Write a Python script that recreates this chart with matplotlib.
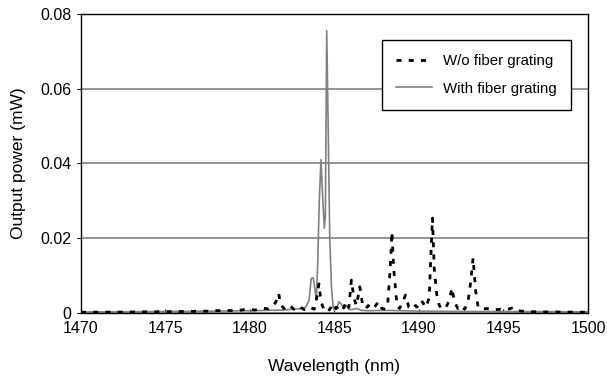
import matplotlib.pyplot as plt

plt.rcParams['font.family'] = ['Liberation Sans', 'DejaVu Sans']

# spectrum with fiber grating (solid grey)
wl_with = [1470.0, 1472.0, 1475.0, 1478.0, 1480.0, 1481.0, 1482.0, 1482.5, 1483.0,
           1483.3, 1483.5, 1483.62, 1483.75, 1483.85, 1483.92, 1484.0, 1484.1, 1484.2,
           1484.3, 1484.4, 1484.46, 1484.54, 1484.62, 1484.72, 1484.82, 1484.92, 1485.0,
           1485.15, 1485.27, 1485.4, 1485.55, 1485.7, 1485.85, 1486.0, 1486.3, 1486.6,
           1487.0, 1488.0, 1490.0, 1493.0, 1496.0, 1500.0]
p_with = [0.0003, 0.0003, 0.0004, 0.0005, 0.0006, 0.0007, 0.0008, 0.0010, 0.0012,
          0.0015, 0.0035, 0.0092, 0.0094, 0.0060, 0.0035, 0.0120, 0.0300, 0.0410,
          0.0310, 0.0227, 0.0260, 0.0755, 0.0520, 0.0200, 0.0070, 0.0015, 0.0008,
          0.0015, 0.0030, 0.0024, 0.0012, 0.0020, 0.0010, 0.0009, 0.0012, 0.0007,
          0.0006, 0.0007, 0.0005, 0.0004, 0.0004, 0.0003]

# spectrum without fiber grating (black dotted)
wl_wo = [1470.0, 1474.0, 1476.0, 1477.5, 1478.5, 1479.2, 1479.8, 1480.3, 1480.7, 1481.1,
         1481.4, 1481.6, 1481.7, 1481.8, 1482.0, 1482.3, 1482.6, 1482.9, 1483.2, 1483.5,
         1483.8, 1483.95, 1484.08, 1484.2, 1484.35, 1484.5, 1484.7, 1484.9, 1485.1, 1485.3,
         1485.5, 1485.7, 1485.85, 1486.0, 1486.15, 1486.3, 1486.5, 1486.65, 1486.85, 1487.0,
         1487.2, 1487.4, 1487.6, 1487.8, 1488.0, 1488.15, 1488.3, 1488.4, 1488.5, 1488.6,
         1488.7, 1488.85, 1489.0, 1489.2, 1489.4, 1489.6, 1489.8, 1490.0, 1490.2, 1490.4,
         1490.6, 1490.7, 1490.8, 1490.9, 1491.05, 1491.2, 1491.4, 1491.6, 1491.8, 1491.95,
         1492.1, 1492.3, 1492.5, 1492.7, 1492.9, 1493.05, 1493.2, 1493.35, 1493.5, 1493.7,
         1494.0, 1494.4, 1494.8, 1495.2, 1495.6, 1495.9, 1496.3, 1497.0, 1500.0]
p_wo = [0.0002, 0.0003, 0.0004, 0.0005, 0.0007, 0.0006, 0.0010, 0.0008, 0.0013, 0.0011,
        0.0020, 0.0035, 0.0052, 0.0025, 0.0012, 0.0022, 0.0010, 0.0018, 0.0009, 0.0016,
        0.0010, 0.0040, 0.0078, 0.0030, 0.0012, 0.0018, 0.0008, 0.0025, 0.0012, 0.0020,
        0.0010, 0.0030, 0.0015, 0.0088, 0.0040, 0.0020, 0.0070, 0.0025, 0.0012, 0.0020,
        0.0010, 0.0018, 0.0030, 0.0012, 0.0010, 0.0025, 0.0120, 0.0217, 0.0120, 0.0070,
        0.0020, 0.0012, 0.0025, 0.0048, 0.0015, 0.0010, 0.0020, 0.0012, 0.0030, 0.0015,
        0.0040, 0.0150, 0.0254, 0.0120, 0.0050, 0.0020, 0.0010, 0.0015, 0.0035, 0.0067,
        0.0030, 0.0012, 0.0020, 0.0010, 0.0030, 0.0080, 0.0147, 0.0060, 0.0015, 0.0010,
        0.0012, 0.0008, 0.0010, 0.0009, 0.0015, 0.0006, 0.0004, 0.0003, 0.0002]

fig = plt.figure(figsize=(6.07, 3.81), dpi=100)
ax = fig.add_axes([0.1334, 0.1785, 0.8353, 0.7848])

ax.plot(wl_wo, p_wo, color='black', lw=2.0, linestyle=(0, (1.8, 2.6)),
        label='W/o fiber grating', zorder=3)
ax.plot(wl_with, p_with, color='#808080', lw=1.2, label='With fiber grating', zorder=2)

ax.set_xlim(1470, 1500)
ax.set_ylim(0, 0.08)
ax.set_xticks([1470, 1475, 1480, 1485, 1490, 1495, 1500])
ax.set_yticks([0, 0.02, 0.04, 0.06, 0.08])
ax.set_yticklabels(['0', '0.02', '0.04', '0.06', '0.08'])
ax.yaxis.grid(True, color='#808080', lw=1.2)
ax.set_axisbelow(True)
ax.tick_params(axis='x', direction='in', length=3, labelsize=11.5, pad=6)
ax.tick_params(axis='y', direction='out', length=3, labelsize=11.5, pad=4)
for s in ax.spines.values():
    s.set_color('black')
    s.set_linewidth(1.0)

ax.set_xlabel('Wavelength (nm)', fontsize=12.5, labelpad=16)
ax.set_ylabel('Output power (mW)', fontsize=12.5, labelpad=10)

leg = ax.legend(loc='upper left', bbox_to_anchor=(0.594, 0.913), fontsize=10.8,
                frameon=True, fancybox=False, edgecolor='black', framealpha=1,
                borderaxespad=0, handlelength=2.4, handletextpad=0.7,
                borderpad=0.95, labelspacing=0.9)
leg.get_frame().set_linewidth(1.0)

fig.savefig('out.png', dpi=100)
